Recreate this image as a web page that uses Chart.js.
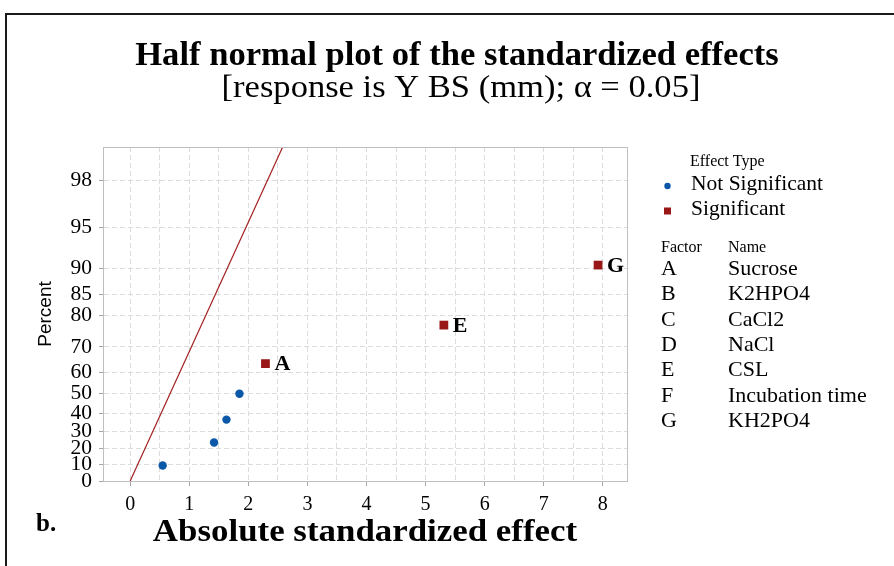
<!DOCTYPE html>
<html>
<head>
<meta charset="utf-8">
<script src="https://cdn.jsdelivr.net/npm/chart.js@4.4.1/dist/chart.umd.min.js"></script>
<style>
  html, body { margin: 0; padding: 0; background: #ffffff; }
  #wrap { position: relative; width: 894px; height: 566px; }
</style>
</head>
<body>
<div id="wrap"><canvas id="chart" width="894" height="566"></canvas></div>
<script>
// Effects that fall inside the noise band
const notSigEffect  = [0.55, 1.42, 1.63, 1.85];
const notSigPercent = [9.5, 23.4, 36.5, 50.0];

// Effects flagged as significant, with their factor letters
const sigLabels  = ['A', 'E', 'G'];
const sigEffect  = [2.29, 5.31, 7.92];
const sigPercent = [63.6, 77.2, 90.5];

// Reference line through the origin
const lineEffect  = [0, 2.7];
const linePercent = [0, 99.31];

// Percent tick labels on the half-normal probability axis
const yTickPercents = [0, 10, 20, 30, 40, 50, 60, 70, 80, 85, 90, 95, 98];
const yMaxPercent = 99.02;
const xMin = -0.46, xMax = 8.41;
const xTickValues = [0, 0.5, 1, 1.5, 2, 2.5, 3, 3.5, 4, 4.5, 5, 5.5, 6, 6.5, 7, 7.5, 8];

// Factor table
const factorLetters = ['A', 'B', 'C', 'D', 'E', 'F', 'G'];
const factorNames = ['Sucrose', 'K2HPO4', 'CaCl2', 'NaCl', 'CSL', 'Incubation time', 'KH2PO4'];

const BLUE = '#0b57a8';
const RED = '#9a1717';
const SERIF = '"Liberation Serif", "Times New Roman", serif';
const SANS = '"Liberation Sans", Arial, sans-serif';

// Inverse standard normal CDF (Acklam's rational approximation)
function invNorm(p) {
  const a = [-3.969683028665376e+01, 2.209460984245205e+02, -2.759285104469687e+02,
             1.383577518672690e+02, -3.066479806614716e+01, 2.506628277459239e+00];
  const b = [-5.447609879822406e+01, 1.615858368580409e+02, -1.556989798598866e+02,
             6.680131188771972e+01, -1.328068155288572e+01];
  const c = [-7.784894002430293e-03, -3.223964580411365e-01, -2.400758277161838e+00,
             -2.549671064619910e+00, 4.374664141464968e+00, 2.938163982698783e+00];
  const d = [7.784695709041462e-03, 3.224671290700398e-01, 2.445134137142996e+00,
             3.754408661907416e+00];
  const pl = 0.02425, ph = 1 - pl;
  let q, r;
  if (p < pl) {
    q = Math.sqrt(-2 * Math.log(p));
    return (((((c[0]*q+c[1])*q+c[2])*q+c[3])*q+c[4])*q+c[5]) / ((((d[0]*q+d[1])*q+d[2])*q+d[3])*q+1);
  }
  if (p <= ph) {
    q = p - 0.5; r = q * q;
    return (((((a[0]*r+a[1])*r+a[2])*r+a[3])*r+a[4])*r+a[5])*q / (((((b[0]*r+b[1])*r+b[2])*r+b[3])*r+b[4])*r+1);
  }
  q = Math.sqrt(-2 * Math.log(1 - p));
  return -(((((c[0]*q+c[1])*q+c[2])*q+c[3])*q+c[4])*q+c[5]) / ((((d[0]*q+d[1])*q+d[2])*q+d[3])*q+1);
}
// Percent -> half-normal score
function hz(pct) { return pct <= 0 ? 0 : invNorm(0.5 + pct / 200); }

const toPoints = (xs, ps) => xs.map((x, i) => ({ x: x, y: hz(ps[i]) }));

// Centered text with a slight horizontal stretch
function wideText(ctx, text, cx, y, font, sx) {
  ctx.save();
  ctx.font = font;
  ctx.textAlign = 'center';
  ctx.translate(cx, y);
  ctx.scale(sx, 1);
  ctx.fillText(text, 0, 0);
  ctx.restore();
}

// Page frame, titles, axis titles, legend and factor table
const decorations = {
  id: 'decorations',
  beforeDraw(chart) {
    const ctx = chart.ctx;
    ctx.save();
    ctx.fillStyle = '#ffffff';
    ctx.fillRect(0, 0, chart.width, chart.height);
    ctx.strokeStyle = '#1a1a1a';
    ctx.lineWidth = 2;
    ctx.beginPath();
    ctx.moveTo(6, 566); ctx.lineTo(6, 14); ctx.lineTo(894, 14);
    ctx.stroke();
    ctx.restore();
  },
  afterDatasetsDraw(chart) {
    const ctx = chart.ctx;
    const a = chart.chartArea;
    ctx.save();
    // plot frame
    ctx.strokeStyle = '#bfbfbf';
    ctx.lineWidth = 1;
    ctx.strokeRect(a.left + 0.5, a.top + 0.5, a.right - a.left, a.bottom - a.top);

    // labels next to significant effects
    ctx.fillStyle = '#000';
    ctx.font = 'bold 22px ' + SERIF;
    ctx.textAlign = 'left';
    ctx.textBaseline = 'middle';
    const meta = chart.getDatasetMeta(1);
    meta.data.forEach((el, i) => {
      ctx.fillText(sigLabels[i], el.x + 9, el.y + 1);
    });

    ctx.textBaseline = 'alphabetic';
    // titles
    wideText(ctx, 'Half normal plot of the standardized effects', 457, 65, 'bold 33px ' + SERIF, 1.048);
    wideText(ctx, '[response is Y BS (mm); \u03b1 = 0.05]', 461, 97, '31px ' + SERIF, 1.114);

    // x axis title
    wideText(ctx, 'Absolute standardized effect', (a.left + a.right) / 2, 541, 'bold 32px ' + SERIF, 1.09);

    // panel tag
    ctx.textAlign = 'left';
    ctx.font = 'bold 25px ' + SERIF;
    ctx.fillText('b.', 36, 531);

    // y axis title
    ctx.save();
    ctx.translate(51, 314);
    ctx.rotate(-Math.PI / 2);
    ctx.textAlign = 'center';
    ctx.font = '19px ' + SANS;
    ctx.fillText('Percent', 0, 0);
    ctx.restore();

    // legend
    ctx.textAlign = 'left';
    ctx.font = '16px ' + SERIF;
    ctx.fillText('Effect Type', 690, 166);
    ctx.font = '21.5px ' + SERIF;
    ctx.fillText('Not Significant', 691, 190);
    ctx.fillText('Significant', 691, 215);
    ctx.fillStyle = BLUE;
    ctx.beginPath(); ctx.arc(667.5, 186, 3.2, 0, Math.PI * 2); ctx.fill();
    ctx.fillStyle = RED;
    ctx.fillRect(664, 207.5, 7, 7);

    // factor table
    ctx.fillStyle = '#000';
    ctx.font = '16px ' + SERIF;
    ctx.fillText('Factor', 661, 252);
    ctx.fillText('Name', 728, 252);
    ctx.font = '22px ' + SERIF;
    factorLetters.forEach((f, i) => {
      const y = 275 + i * 25.3;
      ctx.fillText(f, 661, y);
      ctx.fillText(factorNames[i], 728, y);
    });
    ctx.restore();
  }
};

const gridColor = '#dcdcdc';
const axisColor = '#a6a6a6';

new Chart(document.getElementById('chart'), {
  type: 'scatter',
  data: {
    datasets: [
      {
        label: 'Not Significant',
        data: toPoints(notSigEffect, notSigPercent),
        backgroundColor: BLUE,
        borderColor: BLUE,
        pointStyle: 'circle',
        pointRadius: 4.2,
        borderWidth: 0
      },
      {
        label: 'Significant',
        data: toPoints(sigEffect, sigPercent),
        backgroundColor: RED,
        borderColor: RED,
        pointStyle: 'rect',
        pointRadius: 6.2,
        borderWidth: 0
      },
      {
        label: 'Reference',
        type: 'line',
        data: toPoints(lineEffect, linePercent),
        borderColor: '#a32020',
        borderWidth: 1.2,
        pointRadius: 0,
        fill: false,
        tension: 0
      }
    ]
  },
  options: {
    responsive: false,
    animation: false,
    events: [],
    layout: { padding: { top: 147, right: 267, left: 0, bottom: 0 } },
    plugins: {
      legend: { display: false },
      title: { display: false },
      tooltip: { enabled: false }
    },
    scales: {
      x: {
        type: 'linear',
        min: xMin,
        max: xMax,
        afterBuildTicks(scale) { scale.ticks = xTickValues.map(v => ({ value: v })); },
        afterFit(scale) { scale.height = 85; },
        ticks: {
          autoSkip: false,
          maxRotation: 0,
          padding: 7,
          color: '#000',
          font: { family: SERIF, size: 20 },
          callback: (v) => (Number.isInteger(v) ? String(v) : '')
        },
        grid: {
          color: gridColor,
          lineWidth: 1,
          drawTicks: true,
          tickLength: 5,
          tickColor: (c) => (c.tick && Number.isInteger(c.tick.value) ? axisColor : 'rgba(0,0,0,0)'),
          tickBorderDash: []
        },
        border: { color: axisColor, width: 1, dash: [5, 3] }
      },
      y: {
        type: 'linear',
        min: 0,
        max: hz(yMaxPercent),
        afterBuildTicks(scale) { scale.ticks = yTickPercents.map(p => ({ value: hz(p) })); },
        afterFit(scale) { scale.width = 103; },
        ticks: {
          autoSkip: false,
          padding: 7,
          color: '#000',
          font: { family: SERIF, size: 21.5 },
          callback: (v, i) => String(yTickPercents[i])
        },
        grid: {
          color: gridColor,
          lineWidth: 1,
          drawTicks: true,
          tickLength: 4,
          tickColor: axisColor,
          tickBorderDash: []
        },
        border: { color: axisColor, width: 1, dash: [5, 3] }
      }
    }
  },
  plugins: [decorations]
});
</script>
</body>
</html>
